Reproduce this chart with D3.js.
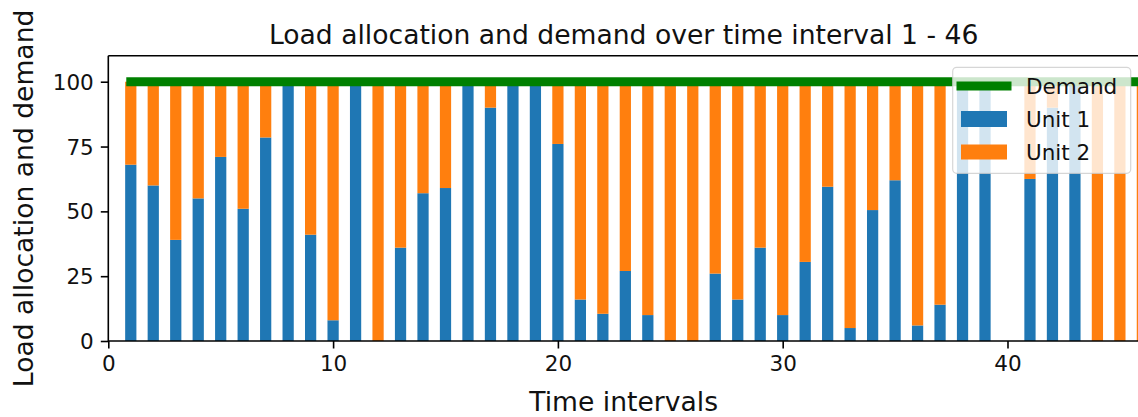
<!DOCTYPE html>
<html>
<head>
<meta charset="utf-8">
<script src="https://cdn.jsdelivr.net/npm/d3@7"></script>
<style>
  html, body { margin: 0; padding: 0; background: #fff; }
  svg { display: block; font-family: "DejaVu Sans", sans-serif; }
</style>
</head>
<body>
<svg id="chart" width="1138" height="417"></svg>
<script>
const intervals = d3.range(1, 47);
const unit1 = [68, 60, 39, 55, 71, 51, 78.5, 100, 41, 8,
               100, 0, 36, 57, 59, 100, 90, 100, 100, 76,
               16, 10.5, 27, 10, 0, 0, 26, 16, 36, 10,
               30.5, 59.5, 5, 50.5, 62, 6, 14, 100, 100, 0,
               62.5, 90, 100, 0, 0, 0];
const unit2 = [32, 40, 61, 45, 29, 49, 21.5, 0, 59, 92,
               0, 100, 64, 43, 41, 0, 10, 0, 0, 24,
               84, 89.5, 73, 90, 100, 100, 74, 84, 64, 90,
               69.5, 40.5, 95, 49.5, 38, 94, 86, 0, 0, 0,
               37.5, 10, 0, 100, 100, 100];
const demand = intervals.map(() => 100);
const xTicks = [0, 10, 20, 30, 40];
const yTicks = [0, 25, 50, 75, 100];
const seriesNames = ["Demand", "Unit 1", "Unit 2"];

const colors = { demand: "#008000", unit1: "#1f77b4", unit2: "#ff7f0e" };
const textColor = "#111";

const svg = d3.select("#chart");
const L = 108.3, R = 1139, T = 55.8, B = 341;
const x = d3.scaleLinear().domain([0, 45.85]).range([L, R]);
const y = d3.scaleLinear().domain([0, 110]).range([B, T]);
const barW = 0.5;

svg.append("defs").append("clipPath").attr("id", "clip")
  .append("rect").attr("x", L).attr("y", T).attr("width", R - L).attr("height", B - T);

const plot = svg.append("g").attr("clip-path", "url(#clip)");

const rows = intervals.map((t, i) => ({ t, u1: unit1[i], u2: unit2[i] }));

plot.selectAll("rect.u1").data(rows).join("rect")
  .attr("class", "u1")
  .attr("x", d => x(d.t - barW / 2))
  .attr("width", d => x(d.t + barW / 2) - x(d.t - barW / 2))
  .attr("y", d => y(d.u1))
  .attr("height", d => y(0) - y(d.u1))
  .attr("fill", colors.unit1);

plot.selectAll("rect.u2").data(rows).join("rect")
  .attr("class", "u2")
  .attr("x", d => x(d.t - barW / 2))
  .attr("width", d => x(d.t + barW / 2) - x(d.t - barW / 2))
  .attr("y", d => y(d.u1 + d.u2))
  .attr("height", d => y(d.u1) - y(d.u1 + d.u2))
  .attr("fill", colors.unit2);

const line = d3.line().x((d, i) => x(intervals[i])).y(d => y(d));
plot.append("path").datum(demand)
  .attr("d", line)
  .attr("fill", "none")
  .attr("stroke", colors.demand)
  .attr("stroke-width", 9)
  .attr("stroke-linecap", "square");

// axes
const xAxis = d3.axisBottom(x).tickValues(xTicks).tickSize(7.5).tickPadding(7);
const yAxis = d3.axisLeft(y).tickValues(yTicks).tickSize(7.5).tickPadding(7);

const gx = svg.append("g").attr("transform", `translate(0,${B})`).call(xAxis);
const gy = svg.append("g").attr("transform", `translate(${L},0)`).call(yAxis);
[gx, gy].forEach(g => {
  g.select(".domain").remove();
  g.selectAll("line").attr("stroke", "#000").attr("stroke-width", 1.6);
  g.selectAll("text").attr("font-size", 21.5).attr("fill", textColor)
    .attr("font-family", "DejaVu Sans");
});
gx.selectAll("text").attr("dy", "0.71em");
gy.selectAll("text").attr("dy", "0.35em");

// spines
const spine = svg.append("g").attr("stroke", "#000").attr("stroke-width", 1.6).attr("fill", "none");
spine.append("line").attr("x1", L).attr("x2", R).attr("y1", B).attr("y2", B);
spine.append("line").attr("x1", L).attr("x2", L).attr("y1", T).attr("y2", B);
spine.append("line").attr("x1", L).attr("x2", R).attr("y1", T).attr("y2", T);
spine.append("line").attr("x1", R).attr("x2", R).attr("y1", T).attr("y2", B);

// title & labels
svg.append("text").attr("x", (L + R) / 2).attr("y", 44).attr("text-anchor", "middle")
  .attr("font-size", 26.6).attr("fill", textColor)
  .text("Load allocation and demand over time interval 1 - 46");
svg.append("text").attr("x", (L + R) / 2).attr("y", 411).attr("text-anchor", "middle")
  .attr("font-size", 26.6).attr("fill", textColor)
  .text("Time intervals");
svg.append("text").attr("transform", `translate(33,${(T + B) / 2}) rotate(-90)`)
  .attr("text-anchor", "middle")
  .attr("font-size", 26.6).attr("fill", textColor)
  .text("Load allocation and demand");

// legend
const lg = svg.append("g");
lg.append("rect").attr("x", 952.7).attr("y", 67.3).attr("width", 178).attr("height", 106)
  .attr("rx", 4).attr("fill", "#fff").attr("fill-opacity", 0.8)
  .attr("stroke", "#ccc").attr("stroke-opacity", 0.8).attr("stroke-width", 1.2);
const rowY = [86, 119, 152];
lg.append("line").attr("x1", 961).attr("x2", 1007).attr("y1", rowY[0]).attr("y2", rowY[0])
  .attr("stroke", colors.demand).attr("stroke-width", 9).attr("stroke-linecap", "square");
lg.append("rect").attr("x", 961).attr("y", rowY[1] - 8).attr("width", 46).attr("height", 16)
  .attr("fill", colors.unit1);
lg.append("rect").attr("x", 961).attr("y", rowY[2] - 7.5).attr("width", 46).attr("height", 15)
  .attr("fill", colors.unit2);
lg.selectAll("text.lt").data(seriesNames).join("text")
  .attr("class", "lt")
  .attr("x", 1026).attr("y", (d, i) => rowY[i]).attr("dy", "0.35em")
  .attr("font-size", 21.5).attr("fill", textColor)
  .text(d => d);
</script>
</body>
</html>
